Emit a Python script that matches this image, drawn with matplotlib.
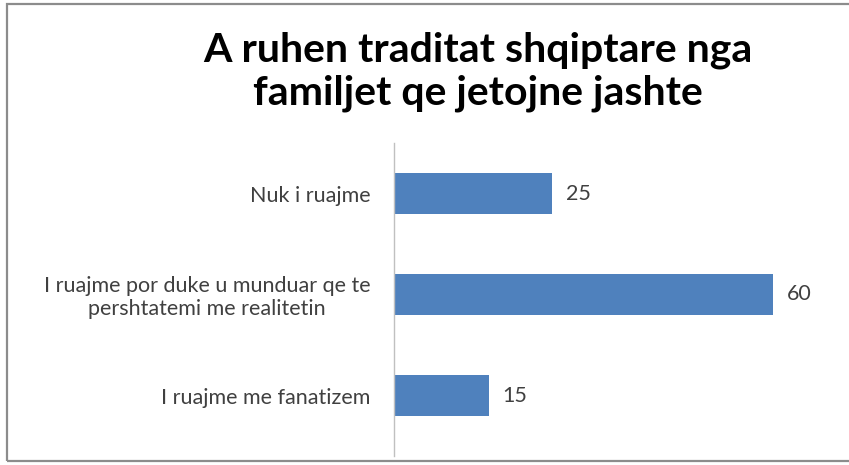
import matplotlib
matplotlib.use("Agg")
import matplotlib.pyplot as plt
from matplotlib.patches import Rectangle

categories = ["Nuk i ruajme",
              "I ruajme por duke u munduar qe te\npershtatemi me realitetin",
              "I ruajme me fanatizem"]
values = [25, 60, 15]
title = "A ruhen traditat shqiptare nga\nfamiljet qe jetojne jashte"

W, H = 849, 465
fig = plt.figure(figsize=(W / 100, H / 100), dpi=100)
fig.patch.set_facecolor("white")

# outer chart frame (right edge cropped)
fig.add_artist(Rectangle((7 / W, (H - 461) / H), (860 - 7) / W, (461 - 4) / H,
                         transform=fig.transFigure, fill=False,
                         edgecolor="#8c8c8c", linewidth=1.6, clip_on=False))

ax = fig.add_axes([394 / W, (H - 446) / H, 442 / W, 303 / H])
y = list(range(len(categories)))
ax.barh(y, values, height=0.4, color="#4F81BD", edgecolor="none")
ax.set_ylim(2.5, -0.5)
ax.set_xlim(0, 70)
ax.set_yticks(y)
ax.set_yticklabels(categories, fontsize=15.5, color="#404040",
                   family=["Lato", "DejaVu Sans"], multialignment="center",
                   linespacing=1.15)
ax.tick_params(axis="y", length=0, pad=17)
ax.set_xticks([])
for s in ["top", "right", "bottom"]:
    ax.spines[s].set_visible(False)
ax.spines["left"].set_color("#c0c0c0")
ax.spines["left"].set_linewidth(1.0)
ax.spines["left"].set_bounds(2.6, -0.5)

for yi, v in zip(y, values):
    ax.text(v + 2.2, yi, str(v), va="center", ha="left", fontsize=15.5,
            color="#404040", family=["Lato", "DejaVu Sans"])

fig.text(478 / W, 1 - 72 / H, title, ha="center", va="center", fontsize=29.5,
         fontweight="bold", color="black", family=["Lato", "DejaVu Sans"],
         linespacing=1.2)

fig.savefig("out.png", dpi=100)
